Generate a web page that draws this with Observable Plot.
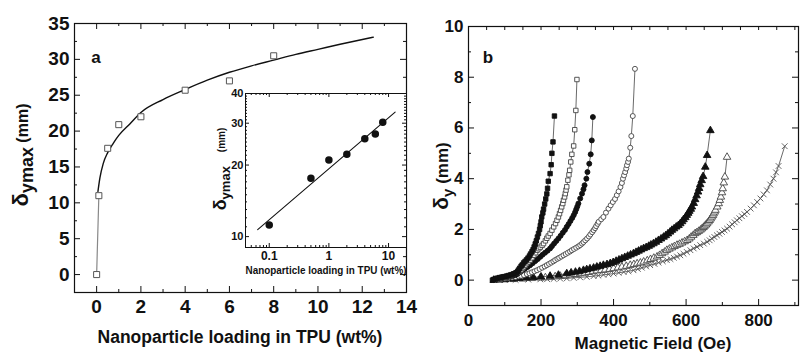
<!DOCTYPE html>
<html><head><meta charset="utf-8">
<script src="https://cdn.jsdelivr.net/npm/d3@7"></script>
<script src="https://cdn.jsdelivr.net/npm/@observablehq/plot@0.6"></script>
<style>
body{margin:0;background:#fff;}
#root{position:relative;width:805px;height:353px;overflow:hidden;font-family:"Liberation Sans",Arial,sans-serif;color:#111;font-weight:bold;}
.abs{position:absolute;white-space:nowrap;line-height:1;}
.plot{position:absolute;overflow:visible;}
</style></head><body><div id="root"></div>
<script>
// ---------- Panel a data ----------
const loading = [0, 0.1, 0.5, 1, 2, 4, 6, 8];
const deltaMax = [0, 11.0, 17.6, 20.9, 22.0, 25.7, 27.0, 30.5];
const fitLoading = [0.06, 0.15, 0.3, 0.5, 0.75, 1, 1.5, 2, 3, 4, 5, 6, 7, 8, 9, 10, 11, 12.5];
const fitDelta = [11.6, 13.5, 15.5, 17.0, 18.3, 19.4, 21.0, 22.6, 24.4, 25.8, 27.1, 28.2, 29.1, 29.9, 30.7, 31.4, 32.1, 33.1];
// inset (log-log)
const insetLoading = [0.1, 0.5, 1, 2, 4, 6, 8];
const insetDelta = [11.2, 17.6, 21.0, 22.2, 25.8, 27.0, 30.3];
const insetFitLoading = [0.064, 12.9];
const insetFitDelta = [10.7, 33.4];
// tick labels
const aTicksX = [0, 2, 4, 6, 8, 10, 12, 14];
const aTicksY = [0, 5, 10, 15, 20, 25, 30, 35];
const insetTicksX = [0.1, 1, 10];
const insetTicksY = [10, 20, 30, 40];
const bTicksX = [0, 200, 400, 600, 800];
const bTicksY = [0, 2, 4, 6, 8, 10];

// ---------- Panel b data: [field (Oe), deflection (mm)] ----------
const filledSquares = [[66,0],[70,0.03],[75,0.05],[80,0.08],[85,0.1],[90,0.11],[95,0.13],[100,0.14],[105,0.16],[110,0.18],[115,0.2],[120,0.22],[125,0.25],[130,0.28],[133,0.3],[136,0.35],[138,0.4],[141,0.47],[145,0.55],[148,0.6],[152,0.68],[156,0.74],[160,0.8],[164,0.87],[168,0.95],[171,1.03],[175,1.12],[178,1.2],[181,1.31],[184,1.43],[187,1.55],[190,1.7],[193,1.84],[196,2.0],[198,2.15],[200,2.3],[202,2.49],[205,2.65],[207,2.8],[210,3.0],[213,3.2],[216,3.4],[218,3.62],[220,3.9],[225,4.2],[228,4.55],[230,5.0],[233,5.45],[237,6.47]];
const openSquares = [[70,0.02],[78,0.05],[85,0.08],[92,0.1],[100,0.12],[108,0.15],[115,0.17],[120,0.21],[125,0.25],[130,0.27],[135,0.3],[140,0.35],[145,0.4],[149,0.46],[152,0.52],[156,0.58],[160,0.65],[165,0.72],[170,0.79],[175,0.88],[180,0.98],[185,1.08],[189,1.18],[194,1.24],[198,1.3],[203,1.37],[207,1.44],[212,1.55],[216,1.65],[220,1.74],[225,1.84],[230,1.97],[235,2.1],[240,2.23],[244,2.36],[248,2.49],[251,2.62],[254,2.75],[257,2.89],[260,3.02],[262,3.15],[265,3.28],[267,3.41],[269,3.55],[271,3.68],[274,3.94],[277,4.15],[279,4.33],[282,4.66],[285,4.96],[290,5.29],[293,5.93],[296,6.69],[299,7.91]];
const filledCircles = [[70,0.02],[78,0.04],[85,0.06],[92,0.08],[100,0.1],[108,0.12],[115,0.14],[122,0.17],[130,0.2],[136,0.26],[143,0.33],[150,0.4],[156,0.46],[163,0.52],[170,0.59],[177,0.67],[184,0.75],[191,0.83],[198,0.92],[204,1.0],[211,1.08],[218,1.16],[225,1.25],[230,1.34],[236,1.44],[242,1.54],[248,1.64],[254,1.75],[260,1.87],[266,1.98],[271,2.1],[276,2.21],[281,2.33],[286,2.45],[290,2.56],[294,2.68],[297,2.79],[300,2.9],[303,3.02],[308,3.22],[313,3.41],[317,3.58],[320,3.74],[325,4.0],[328,4.26],[333,4.59],[337,4.96],[340,5.51],[343,6.43]];
const openCircles = [[70,0],[80,0.02],[90,0.04],[100,0.06],[110,0.08],[120,0.1],[130,0.12],[138,0.15],[145,0.17],[153,0.2],[161,0.24],[168,0.27],[175,0.31],[182,0.35],[189,0.39],[196,0.44],[203,0.49],[210,0.54],[216,0.59],[222,0.64],[228,0.69],[234,0.74],[239,0.79],[245,0.84],[250,0.88],[256,0.93],[262,0.98],[268,1.03],[274,1.08],[280,1.13],[285,1.18],[291,1.23],[297,1.28],[303,1.33],[308,1.38],[313,1.44],[317,1.5],[322,1.57],[327,1.64],[332,1.72],[336,1.8],[341,1.89],[345,1.97],[349,2.05],[352,2.13],[356,2.22],[359,2.3],[366,2.4],[372,2.49],[379,2.66],[386,2.82],[392,2.95],[398,3.08],[404,3.2],[409,3.35],[414,3.5],[419,3.67],[423,3.83],[426,4.0],[429,4.13],[432,4.26],[435,4.4],[437,4.53],[440,4.66],[442,4.79],[446,5.22],[449,5.68],[453,6.47],[459,8.33]];
const filledTriangles = [[70,0],[85,0.02],[100,0.03],[120,0.05],[140,0.07],[160,0.09],[179,0.11],[200,0.13],[225,0.16],[248,0.2],[271,0.26],[283,0.29],[295,0.32],[306,0.35],[317,0.39],[326,0.42],[335,0.45],[345,0.48],[354,0.52],[363,0.55],[372,0.59],[382,0.62],[391,0.66],[399,0.7],[407,0.75],[415,0.8],[423,0.85],[431,0.9],[439,0.95],[447,1.0],[455,1.05],[462,1.1],[469,1.15],[476,1.2],[483,1.25],[490,1.29],[497,1.34],[503,1.39],[510,1.44],[517,1.5],[524,1.57],[531,1.63],[538,1.7],[544,1.76],[550,1.83],[556,1.9],[561,1.97],[567,2.03],[573,2.1],[579,2.16],[584,2.23],[589,2.31],[593,2.39],[598,2.47],[602,2.56],[606,2.64],[609,2.72],[613,2.8],[616,2.89],[621,3.03],[625,3.18],[629,3.33],[633,3.48],[636,3.62],[639,3.77],[643,3.93],[647,4.09],[653,4.46],[658,4.92],[667,5.9]];
const openTriangles = [[70,0],[85,0.01],[100,0.02],[125,0.03],[150,0.05],[175,0.07],[198,0.09],[212,0.1],[225,0.12],[239,0.14],[253,0.16],[267,0.18],[280,0.21],[294,0.23],[308,0.26],[320,0.28],[331,0.31],[343,0.34],[354,0.37],[366,0.39],[377,0.41],[389,0.43],[400,0.46],[412,0.49],[423,0.52],[435,0.55],[446,0.59],[456,0.62],[465,0.65],[474,0.68],[483,0.72],[493,0.77],[502,0.82],[511,0.87],[520,0.92],[527,0.98],[534,1.05],[541,1.11],[547,1.18],[554,1.23],[561,1.28],[568,1.33],[575,1.38],[582,1.42],[589,1.47],[596,1.52],[603,1.57],[609,1.63],[614,1.7],[620,1.77],[625,1.84],[630,1.88],[635,1.93],[640,1.98],[644,2.03],[648,2.08],[651,2.13],[655,2.18],[658,2.23],[662,2.3],[665,2.36],[668,2.42],[671,2.49],[674,2.55],[676,2.62],[679,2.69],[681,2.76],[686,2.89],[690,3.02],[693,3.15],[696,3.28],[699,3.45],[701,3.61],[704,3.84],[707,4.07],[713,4.85]];
const crosses = [[70,0],[100,0.005],[130,0.01],[165,0.02],[198,0.03],[217,0.04],[235,0.05],[253,0.06],[271,0.07],[290,0.09],[308,0.11],[326,0.13],[345,0.16],[358,0.18],[372,0.21],[386,0.23],[400,0.26],[414,0.29],[428,0.32],[441,0.35],[455,0.39],[467,0.44],[478,0.49],[490,0.54],[501,0.59],[513,0.64],[524,0.69],[536,0.74],[547,0.79],[557,0.83],[566,0.88],[575,0.93],[584,0.98],[593,1.04],[602,1.11],[612,1.18],[621,1.25],[630,1.31],[639,1.38],[649,1.44],[658,1.51],[665,1.57],[671,1.64],[678,1.7],[685,1.77],[692,1.83],[699,1.9],[706,1.96],[713,2.03],[720,2.11],[727,2.2],[734,2.28],[740,2.36],[747,2.44],[754,2.52],[761,2.6],[768,2.69],[778,2.82],[787,2.95],[796,3.08],[805,3.22],[814,3.38],[823,3.54],[832,3.77],[841,4.0],[848,4.25],[855,4.5],[872,5.28]];

const FONT = "Liberation Sans, Arial, Helvetica, sans-serif";
const INK = "#111";
const root = document.getElementById("root");

function place(el, left, top) {
  el.classList.add("plot");
  el.style.left = left + "px";
  el.style.top = top + "px";
  root.appendChild(el);
}
// inward tick helpers (length in px)
function tickMarksX(values, innerH, len, both = true) {
  const m = [Plot.ruleX(values, {x: d => d, stroke: INK, strokeWidth: 1, insetTop: innerH - len})];
  if (both) m.push(Plot.ruleX(values, {x: d => d, stroke: INK, strokeWidth: 1, insetBottom: innerH - len}));
  return m;
}
function tickMarksY(values, innerW, len, both = true) {
  const m = [Plot.ruleY(values, {y: d => d, stroke: INK, strokeWidth: 1, insetRight: innerW - len})];
  if (both) m.push(Plot.ruleY(values, {y: d => d, stroke: INK, strokeWidth: 1, insetLeft: innerW - len}));
  return m;
}

// ---------- Panel a ----------
{
  const W = 440, H = 353, mL = 74, mR = 34, mT = 23, mB = 61;
  const iw = W - mL - mR, ih = H - mT - mB;
  const pts = loading.map((x, i) => ({x, y: deltaMax[i]}));
  const fit = fitLoading.map((x, i) => ({x, y: fitDelta[i]}));
  const minorX = d3.range(-1, 14, 1).filter(v => v % 2 !== 0);
  const minorY = d3.range(-2.5, 35, 2.5).filter(v => v % 5 !== 0);
  const p = Plot.plot({
    width: W, height: H, marginLeft: mL, marginRight: mR, marginTop: mT, marginBottom: mB,
    style: {fontFamily: FONT, background: "transparent", overflow: "visible"},
    x: {domain: [-1, 14], label: null},
    y: {domain: [-2.5, 35], label: null},
    marks: [
      Plot.frame({stroke: INK, strokeWidth: 1.2}),
      ...tickMarksX(aTicksX, ih, 6),
      ...tickMarksX(minorX, ih, 3),
      ...tickMarksY(aTicksY, iw, 6),
      ...tickMarksY(minorY, iw, 3),
      Plot.line(pts.slice(0, 2), {x: "x", y: "y", stroke: "#888", strokeWidth: 1.2}),
      Plot.line(fit, {x: "x", y: "y", stroke: INK, strokeWidth: 1.4, curve: "monotone-x"}),
      Plot.dot(pts, {x: "x", y: "y", symbol: "square", r: 3.4, fill: "white", stroke: "#555", strokeWidth: 1}),
      Plot.axisX(aTicksX, {tickSize: 0, tickPadding: 7, fontSize: 19, fontWeight: "bold", fill: INK, label: null}),
      Plot.axisY(aTicksY, {tickSize: 0, tickPadding: 5, fontSize: 19, fontWeight: "bold", fill: INK, label: null})
    ]
  });
  place(p, 0, 0);
}

// ---------- Inset ----------
{
  const W = 215, H = 200, mL = 45, mR = 9, mT = 13, mB = 33;
  const iw = W - mL - mR, ih = H - mT - mB;
  const pts = insetLoading.map((x, i) => ({x, y: insetDelta[i]}));
  const fit = insetFitLoading.map((x, i) => ({x, y: insetFitDelta[i]}));
  const minorX = [0.05,0.06,0.07,0.08,0.09,0.2,0.3,0.4,0.5,0.6,0.7,0.8,0.9,2,3,4,5,6,7,8,9,20];
  const minorY = d3.range(9, 41, 1).filter(v => v % 10 !== 0);
  const p = Plot.plot({
    width: W, height: H, marginLeft: mL, marginRight: mR, marginTop: mT, marginBottom: mB,
    style: {fontFamily: FONT, background: "transparent", overflow: "visible"},
    x: {type: "log", domain: [0.04, 20], label: null},
    y: {type: "log", domain: [9, 40], label: null},
    marks: [
      Plot.frame({fill: "white", stroke: INK, strokeWidth: 1}),
      ...tickMarksX(insetTicksX, ih, 4),
      ...tickMarksX(minorX, ih, 2),
      ...tickMarksY(insetTicksY, iw, 4),
      ...tickMarksY(minorY, iw, 2),
      Plot.line(fit, {x: "x", y: "y", stroke: INK, strokeWidth: 1.1}),
      Plot.dot(pts, {x: "x", y: "y", r: 3, fill: INK, stroke: INK}),
      Plot.axisX(insetTicksX, {tickSize: 0, tickPadding: 4, fontSize: 12, fontWeight: "bold", fill: INK, label: null, tickFormat: d => String(d)}),
      Plot.axisY(insetTicksY, {tickSize: 0, tickPadding: 2, fontSize: 11, fontWeight: "bold", fill: INK, label: null, tickFormat: d => String(d)})
    ]
  });
  place(p, 200, 80);
}

// ---------- Panel b ----------
{
  const W = 385, H = 353, mL = 48, mR = 7, mT = 26, mB = 48;
  const iw = W - mL - mR, ih = H - mT - mB;
  const toObj = arr => arr.map(([x, y]) => ({x, y}));
  const series = [
    {data: crosses, symbol: "times", fill: "none", stroke: "#555", r: 2.7},
    {data: openTriangles, symbol: "triangle", fill: "white", stroke: "#444", r: 2.8},
    {data: filledTriangles, symbol: "triangle", fill: INK, stroke: INK, r: 2.8},
    {data: openCircles, symbol: "circle", fill: "white", stroke: "#444", r: 2.5},
    {data: filledCircles, symbol: "circle", fill: INK, stroke: INK, r: 2.5},
    {data: openSquares, symbol: "square", fill: "white", stroke: "#444", r: 2.5},
    {data: filledSquares, symbol: "square", fill: INK, stroke: INK, r: 2.5}
  ];
  const marks = [
    Plot.frame({stroke: INK, strokeWidth: 1.2}),
    ...tickMarksX(bTicksX, ih, 6, false),
    ...tickMarksX([100, 300, 500, 700, 900], ih, 3, false),
    Plot.ruleX(d3.range(50, 901, 50), {x: d => d, stroke: INK, strokeWidth: 1, insetBottom: ih - 4}),
    ...tickMarksY(bTicksY, iw, 6),
    ...tickMarksY([-1, 1, 3, 5, 7, 9], iw, 3)
  ];
  for (const s of series) {
    const d = toObj(s.data);
    marks.push(Plot.line(d, {x: "x", y: "y", stroke: "#444", strokeWidth: 0.8}));
    marks.push(Plot.dot(d, {x: "x", y: "y", symbol: s.symbol, r: s.r, fill: s.fill, stroke: s.stroke, strokeWidth: 0.9}));
  }
  marks.push(Plot.axisX(bTicksX, {tickSize: 0, tickPadding: 8, fontSize: 17, fontWeight: "bold", fill: INK, label: null}));
  marks.push(Plot.axisY(bTicksY, {tickSize: 0, tickPadding: 5, fontSize: 17, fontWeight: "bold", fill: INK, label: null}));
  const p = Plot.plot({
    width: W, height: H, marginLeft: mL, marginRight: mR, marginTop: mT, marginBottom: mB,
    style: {fontFamily: FONT, background: "transparent", overflow: "visible"},
    x: {domain: [0, 910], label: null},
    y: {domain: [-1, 10], label: null},
    marks
  });
  place(p, 420, 0);
}

// ---------- Titles (HTML text) ----------
function addText(html, cx, cy, css, rotate = 0) {
  const d = document.createElement("div");
  d.className = "abs";
  d.innerHTML = html;
  d.style.left = cx + "px";
  d.style.top = cy + "px";
  d.style.transform = `translate(-50%,-50%) rotate(${rotate}deg)` + (css.scaleX ? ` scaleX(${css.scaleX})` : "");
  if (css.fontSize) d.style.fontSize = css.fontSize;
  root.appendChild(d);
  return d;
}
addText("Nanoparticle loading in TPU (wt%)", 240, 338, {fontSize: "17.5px"});
addText("Magnetic Field (Oe)", 653, 343, {fontSize: "17px"});
addText('<span style="font-size:22px">δ</span><span style="font-size:18px;position:relative;top:5px">ymax</span><span style="font-size:16px"> (mm)</span>', 21, 155, {}, -90);
addText('<span style="font-size:21px">δ</span><span style="font-size:15px;position:relative;top:5px">y</span><span style="font-size:17px"> (mm)</span>', 440, 176, {}, -90);
addText('<span style="font-size:18px">δ</span><span style="font-size:13px;position:relative;top:4px">ymax</span><span style="font-size:10px;position:relative;top:-1px;padding-left:14px">(mm)</span>', 220, 169, {}, -90);
addText("Nanoparticle loading in TPU (wt%)", 326, 271, {fontSize: "11.5px", scaleX: 0.86});
addText("a", 96, 57, {fontSize: "17px"});
addText("b", 488, 57, {fontSize: "17px"});
</script></body></html>
